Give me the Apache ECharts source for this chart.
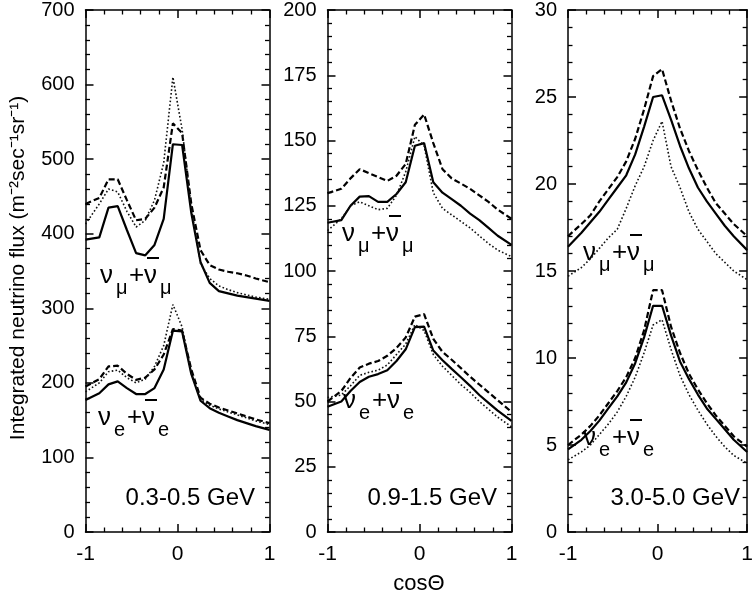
<!DOCTYPE html>
<html>
<head>
<meta charset="utf-8">
<script src="https://cdn.jsdelivr.net/npm/echarts@6/dist/echarts.min.js"></script>
<style>html,body{margin:0;padding:0;background:#fff;}#c{width:756px;height:598px;}</style>
</head>
<body>
<div id="c"></div>
<script>
const cosTheta = [-1,-0.85,-0.75,-0.65,-0.55,-0.45,-0.35,-0.25,-0.15,-0.05,0.05,0.15,0.25,0.35,0.45,0.55,0.65,0.75,0.85,1];

// Panel 1: 0.3-0.5 GeV
const p1MuSolid  = [392,395,435,437,405,374,371,385,420,520,519,428,362,334,323,320,317,315,313,310];
const p1MuDashed = [440,448,473,473,445,418,420,435,462,548,535,440,378,358,352,349,347,344,340,335];
const p1MuDotted = [413,440,460,456,430,409,418,445,495,610,540,435,360,340,330,325,321,318,315,312];
const p1ESolid   = [177,186,198,202,193,185,185,193,218,270,269,212,176,166,160,155,150,146,142,137];
const p1EDashed  = [195,205,222,223,212,204,207,218,238,272,270,218,180,172,167,163,159,155,151,146];
const p1EDotted  = [188,200,215,217,207,200,205,222,250,305,275,213,178,170,165,161,157,153,149,144];

// Panel 2: 0.9-1.5 GeV
const p2MuSolid  = [118.5,119.5,125,128.5,128.7,126.5,126.5,129.5,134,148,149,134,130,127.5,125,122,119.5,116.5,113.5,110];
const p2MuDashed = [129.8,131.5,135.5,139,137.5,136,134.5,136.5,141,156,160,149,139,135.5,133.5,131.5,129,126.5,123.5,120];
const p2MuDotted = [115.5,120,125,126.5,125,123.5,124,129,138,151.5,148,130,124,121.5,119,116.5,113.5,110.5,108,105.5];
const p2ESolid   = [48,50,54,57.5,59.5,60.5,62,65.5,70,78.5,78.7,69.5,65.8,62.5,59.3,56,52.5,49.5,46.5,42.6];
const p2EDashed  = [50,54,59,63,64.5,65.5,67.5,70.5,74.5,82.5,83.5,74,69,66,62.8,59.5,56.5,53.5,50.5,46];
const p2EDotted  = [51.5,52.5,56,60,61.2,62,64,68,72,79.5,77.2,68,63.5,60,56.5,53.5,50,47,44,40.3];

// Panel 3: 3.0-5.0 GeV
const p3MuSolid  = [16.4,17.2,17.8,18.4,19.1,19.8,20.5,21.7,23.3,25.0,25.1,23.7,22.2,20.9,19.8,19.0,18.3,17.6,17.0,16.2];
const p3MuDashed = [17.0,17.7,18.2,19.0,19.7,20.4,21.3,22.6,24.3,26.2,26.6,24.8,23.2,21.9,20.8,19.8,18.9,18.3,17.7,17.0];
const p3MuDotted = [14.7,15.2,15.7,16.3,16.9,17.4,18.6,19.9,21.0,22.5,23.6,21.0,19.8,18.4,17.4,16.7,16.0,15.5,15.0,14.5];
const p3ESolid   = [4.75,5.3,5.8,6.4,7.1,7.8,8.6,9.7,11.2,13.0,13.0,11.3,9.8,8.8,7.9,7.1,6.5,5.9,5.3,4.6];
const p3EDashed  = [5.0,5.6,6.1,6.7,7.4,8.1,8.9,10.0,11.6,13.9,13.9,11.8,10.3,9.1,8.2,7.4,6.7,6.1,5.5,4.9];
const p3EDotted  = [4.15,4.6,5.0,5.6,6.2,6.9,7.8,8.9,10.3,11.9,12.2,10.5,9.0,7.9,7.0,6.2,5.5,4.9,4.4,3.95];

const yMax = [700, 200, 30];
const yInterval = [100, 25, 5];
const energyLabels = ['0.3-0.5 GeV', '0.9-1.5 GeV', '3.0-5.0 GeV'];
const xTitle = 'cosΘ';
const yTitle = 'Integrated neutrino flux (m⁻²sec⁻¹sr⁻¹)';

const FONT = 'Liberation Sans, Arial, Helvetica, sans-serif';
const gridLefts = [85.5, 327.5, 568];
const grids = gridLefts.map(l => ({left: l, top: 9.5, width: 184, height: 522.5}));

function axLine() { return {show: true, onZero: false, lineStyle: {color: '#000', width: 1.5}}; }
function tick() { return {show: true, inside: true, length: 8, lineStyle: {color: '#000', width: 1.5}}; }
function minor() { return {show: true, splitNumber: 5, length: 4.5, lineStyle: {color: '#000', width: 1.3}}; }

const xAxes = [], yAxes = [];
for (let i = 0; i < 3; i++) {
  xAxes.push({type: 'value', gridIndex: i, position: 'bottom', min: -1, max: 1, interval: 1,
    axisLine: axLine(), axisTick: tick(), minorTick: minor(), splitLine: {show: false},
    axisLabel: {fontSize: 21, color: '#000', fontFamily: FONT, margin: 12}});
  xAxes.push({type: 'value', gridIndex: i, position: 'top', min: -1, max: 1, interval: 1,
    axisLine: axLine(), axisTick: tick(), minorTick: minor(), splitLine: {show: false},
    axisLabel: {show: false}});
  yAxes.push({type: 'value', gridIndex: i, position: 'left', min: 0, max: yMax[i], interval: yInterval[i],
    axisLine: axLine(), axisTick: tick(), minorTick: minor(), splitLine: {show: false},
    axisLabel: {fontSize: 20, color: '#000', fontFamily: FONT, margin: 11}});
  yAxes.push({type: 'value', gridIndex: i, position: 'right', min: 0, max: yMax[i], interval: yInterval[i],
    axisLine: axLine(), axisTick: tick(), minorTick: minor(), splitLine: {show: false},
    axisLabel: {show: false}});
}

const styles = {
  solid:  () => ({color: '#000', width: 2.2, type: 'solid'}),
  dashed: () => ({color: '#000', width: 2.2, type: [6, 3]}),
  dotted: () => ({color: '#111', width: 1.6, type: [1.6, 2.2]})
};
const panels = [
  [[p1MuSolid,'solid'],[p1MuDashed,'dashed'],[p1MuDotted,'dotted'],[p1ESolid,'solid'],[p1EDashed,'dashed'],[p1EDotted,'dotted']],
  [[p2MuSolid,'solid'],[p2MuDashed,'dashed'],[p2MuDotted,'dotted'],[p2ESolid,'solid'],[p2EDashed,'dashed'],[p2EDotted,'dotted']],
  [[p3MuSolid,'solid'],[p3MuDashed,'dashed'],[p3MuDotted,'dotted'],[p3ESolid,'solid'],[p3EDashed,'dashed'],[p3EDotted,'dotted']]
];
const series = [];
panels.forEach((p, i) => {
  p.forEach(([vals, st]) => {
    series.push({type: 'line', xAxisIndex: 2*i, yAxisIndex: 2*i, symbol: 'none', silent: true,
      data: cosTheta.map((x, k) => [x, vals[k]]), lineStyle: styles[st]()});
  });
});

function txt(x, y, text, size, align) {
  return {type: 'text', x: x, y: y, silent: true, style: {text: text, fontSize: size, fontFamily: FONT, fill: '#000',
    align: align || 'left', verticalAlign: 'middle'}};
}
const graphic = [];
function nuLabel(x, y, sub) {
  graphic.push(txt(x, y - 9, 'ν', 26), txt(x + 16, y + 3, sub, 20), txt(x + 29, y - 9, '+', 26),
    txt(x + 44, y - 9, 'ν', 26), txt(x + 60, y + 3, sub, 20),
    {type: 'rect', silent: true, shape: {x: x + 47, y: y - 28, width: 12, height: 2}, style: {fill: '#000'}});
}
nuLabel(100, 285, 'μ'); nuLabel(98, 427, 'e');
nuLabel(342, 243, 'μ'); nuLabel(343, 410, 'e');
nuLabel(583, 262, 'μ'); nuLabel(583, 447, 'e');
graphic.push(
  txt(255, 498, energyLabels[0], 24, 'right'),
  txt(497, 498, energyLabels[1], 24, 'right'),
  txt(740, 498, energyLabels[2], 24, 'right'),
  txt(419, 584, xTitle, 22, 'center'),
  {type: 'text', x: 18, y: 268, rotation: Math.PI / 2, silent: true,
    style: {text: yTitle, fontSize: 21, fontFamily: FONT, fill: '#000', align: 'center', verticalAlign: 'middle'}}
);

const chart = echarts.init(document.getElementById('c'));
chart.setOption({
  animation: false,
  backgroundColor: '#fff',
  grid: grids,
  xAxis: xAxes,
  yAxis: yAxes,
  series: series,
  graphic: graphic
});
</script>
</body>
</html>
